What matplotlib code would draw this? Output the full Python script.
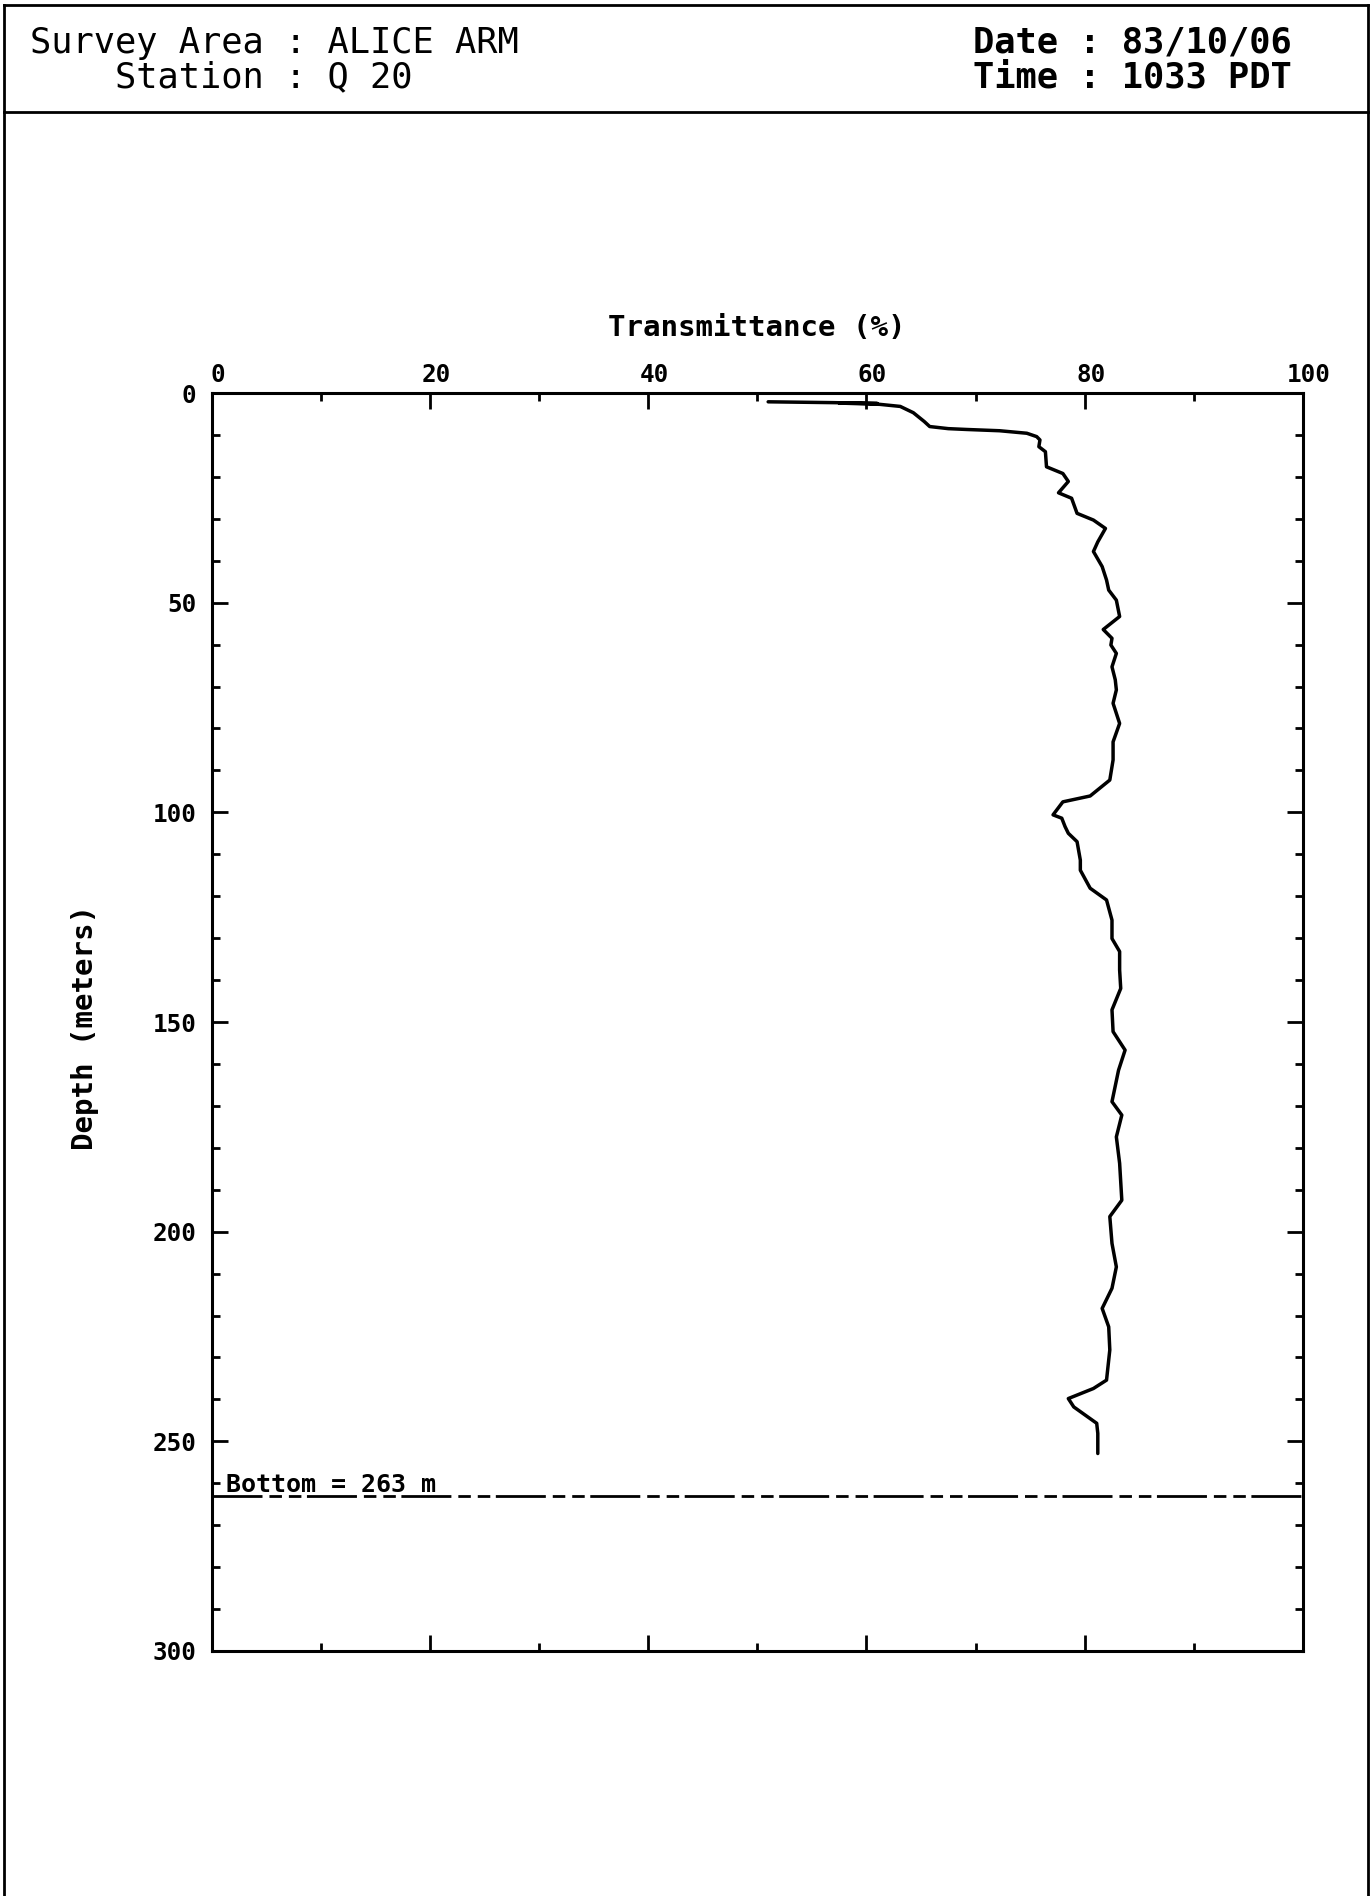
import matplotlib
matplotlib.use('Agg')
import matplotlib.pyplot as plt
from matplotlib.lines import Line2D
from matplotlib.ticker import MultipleLocator, FixedLocator
import matplotlib.transforms as mtransforms

plt.rcParams['lines.scale_dashes'] = False
plt.rcParams['font.family'] = ['DejaVu Sans Mono', 'DejaVu Sans']

# ---- data ----
transmittance = [51.0, 54.0, 57.0, 61.0, 57.5, 61.2, 63.1, 64.3, 65.3, 65.8, 67.5,
                 69.2, 72.2, 74.7, 75.6, 75.9, 75.8, 76.4, 76.5, 78.0, 78.5, 77.6,
                 78.8, 79.3, 80.8, 81.9, 81.2, 80.8, 81.6, 82.0, 82.2, 82.9, 83.2,
                 81.7, 82.5, 82.4, 82.9, 82.5, 82.8, 82.9, 82.6, 83.2, 82.6, 82.6,
                 82.3, 80.5, 78.0, 77.1, 77.9, 78.2, 78.5, 79.3, 79.6, 79.6, 80.5,
                 82.0, 82.5, 82.5, 83.2, 83.2, 83.3, 82.5, 82.6, 83.7, 83.1, 82.5,
                 83.4, 82.9, 83.2, 83.4, 82.3, 82.5, 82.9, 82.5, 81.6, 82.2, 82.3,
                 82.0, 80.8, 78.5, 79.0, 81.1, 81.2, 81.2]
depth = [2.1, 2.2, 2.3, 2.5, 2.4, 2.7, 3.2, 4.7, 6.8, 8.0, 8.5,
         8.7, 9.0, 9.6, 10.4, 11.2, 12.8, 14.0, 17.6, 19.2, 21.1, 23.8,
         25.1, 28.7, 30.3, 32.3, 35.5, 37.8, 41.4, 44.6, 47.0, 49.4, 53.3,
         56.4, 58.5, 60.1, 62.1, 65.3, 68.4, 70.8, 74.0, 78.8, 83.2, 87.5,
         92.3, 96.1, 97.5, 100.6, 101.4, 103.4, 105.0, 107.0, 111.4, 113.8, 118.1,
         120.9, 125.7, 130.1, 133.2, 137.6, 142.0, 147.1, 152.3, 156.7, 161.5, 169.0,
         172.2, 177.4, 183.7, 192.5, 196.4, 202.8, 208.4, 213.5, 218.3, 222.7, 228.2,
         235.4, 237.4, 239.8, 241.8, 245.7, 248.1, 252.9]
bottom_depth = 263
x_ticks = [0, 20, 40, 60, 80, 100]
y_ticks = [0, 50, 100, 150, 200, 250, 300]
header_left = ["Survey Area : ALICE ARM", "    Station : Q 20"]
header_right = ["Date : 83/10/06", "Time : 1033 PDT"]

W, H = 1372, 1896
fig = plt.figure(figsize=(W / 100, H / 100), dpi=100)
fig.patch.set_facecolor('white')

# ---- page frame ----
def px_line(x0, y0, x1, y1, lw=2.0):
    fig.add_artist(Line2D([x0 / W, x1 / W], [1 - y0 / H, 1 - y1 / H],
                          transform=fig.transFigure, color='black', lw=lw))

px_line(4, 5, 1368, 5)
px_line(4, 112, 1368, 112)
px_line(4, 5, 4, H)
px_line(1368, 5, 1368, H)

# ---- header text ----
fig.text(30 / W, 1 - 43 / H, header_left[0], ha='left', va='center', fontsize=25.5)
fig.text(30 / W, 1 - 77 / H, header_left[1], ha='left', va='center', fontsize=25.5)
fig.text(973 / W, 1 - 43 / H, header_right[0], ha='left', va='center', fontsize=25.5,
         fontweight='bold')
fig.text(973 / W, 1 - 77 / H, header_right[1], ha='left', va='center', fontsize=25.5,
         fontweight='bold')

# ---- axes ----
left, right, top, bottom = 211.5, 1303, 393, 1651
ax = fig.add_axes([left / W, 1 - bottom / H, (right - left) / W, (bottom - top) / H])
ax.set_xlim(0, 100)
ax.set_ylim(300, 0)

ax.plot(transmittance, depth, color='black', lw=2.5, solid_joinstyle='round',
        solid_capstyle='round')

ax.axhline(bottom_depth, color='black', lw=2.0,
           linestyle=(0, (36, 5, 9, 5, 9, 4)))
ax.text(1.3, bottom_depth - 1.0, "Bottom = %d m" % bottom_depth, ha='left',
        va='baseline', fontsize=18, fontweight='bold')

for s in ax.spines.values():
    s.set_linewidth(2.2)

ax.xaxis.set_major_locator(FixedLocator(x_ticks))
ax.xaxis.set_minor_locator(MultipleLocator(10))
ax.yaxis.set_major_locator(FixedLocator(y_ticks))
ax.yaxis.set_minor_locator(MultipleLocator(10))
ax.set_xticklabels([str(v) for v in x_ticks])
ax.set_yticklabels([str(v) for v in y_ticks])

ax.tick_params(axis='x', which='both', direction='in', top=True, bottom=True,
               labeltop=True, labelbottom=False, width=2.0, pad=4)
ax.tick_params(axis='y', which='both', direction='in', left=True, right=True,
               labelleft=True, labelright=False, width=2.0, pad=11)
ax.tick_params(which='major', length=11.5)
ax.tick_params(which='minor', length=5.5)
for lab in ax.get_xticklabels() + ax.get_yticklabels():
    lab.set_fontsize(17.5)
    lab.set_fontweight('bold')

off = mtransforms.ScaledTranslation(6 / 100, 0, fig.dpi_scale_trans)
for lab in ax.get_xticklabels():
    lab.set_transform(lab.get_transform() + off)

ax.text(0.5, 1.052, "Transmittance (%)", transform=ax.transAxes, ha='center',
        va='center', fontsize=21, fontweight='bold')
ax.text(-0.116, 0.496, "Depth (meters)", transform=ax.transAxes, ha='center',
        va='center', rotation=90, fontsize=21, fontweight='bold')

fig.savefig('out.png', dpi=100, facecolor='white')
